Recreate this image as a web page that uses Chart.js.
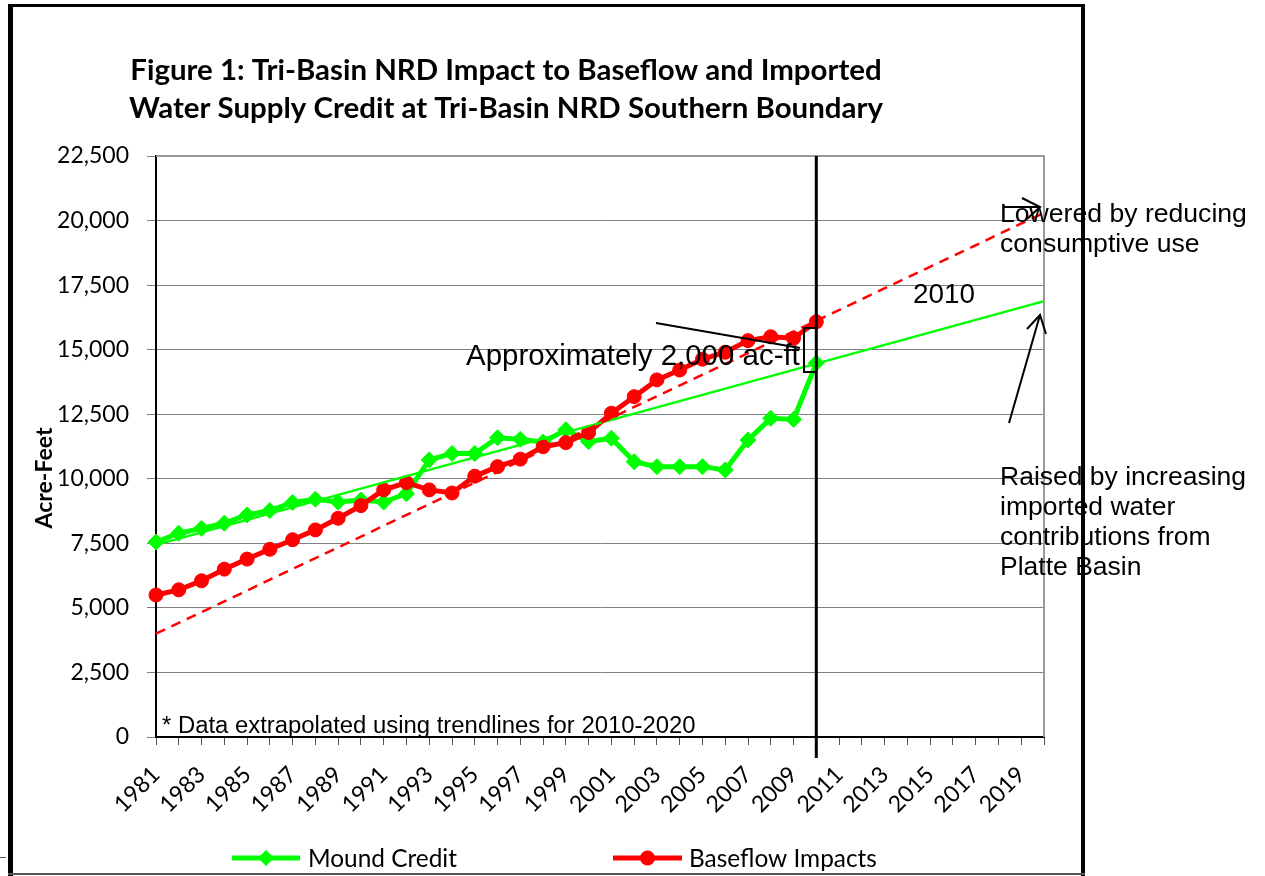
<!DOCTYPE html>
<html>
<head>
<meta charset="utf-8">
<script src="https://cdn.jsdelivr.net/npm/chart.js@4.4.1/dist/chart.umd.min.js"></script>
<style>
  html, body { margin: 0; padding: 0; background: #fff; }
  #wrap { width: 1265px; height: 876px; }
</style>
</head>
<body>
<div id="wrap"><canvas id="tribasinChart" width="1265" height="876"></canvas></div>
<script>
const years = [
  "1981", "1982", "1983", "1984", "1985", "1986", "1987", "1988", "1989", "1990",
  "1991", "1992", "1993", "1994", "1995", "1996", "1997", "1998", "1999", "2000",
  "2001", "2002", "2003", "2004", "2005", "2006", "2007", "2008", "2009", "2010",
  "2011", "2012", "2013", "2014", "2015", "2016", "2017", "2018", "2019", "2020",
]
const moundCredit = [
  7550, 7890, 8080, 8280, 8600, 8770, 9080, 9210, 9100, 9180,
  9100, 9420, 10730, 10980, 10980, 11590, 11530, 11420, 11900, 11440,
  11570, 10660, 10470, 10470, 10470, 10340, 11500, 12340, 12300, 14480,
]
const baseflowImpacts = [
  5500, 5700, 6050, 6500, 6890, 7270, 7640, 8020, 8470, 8960,
  9570, 9850, 9570, 9450, 10100, 10470, 10760, 11240, 11400, 11790,
  12540, 13180, 13830, 14210, 14630, 14900, 15350, 15500, 15440, 16080,
]
// trendline end points (1981 and 2020)
const trendYears = ["1981", "2020"]
const moundTrend = [7440, 16880]
const baseflowTrend = [4000, 20300]
const yTicks = [0, 2500, 5000, 7500, 10000, 12500, 15000, 17500, 20000, 22500]

const fitSize = (ctx, text, weight, family, width) => {
  ctx.font = `${weight} 100px "${family}"`
  return (100 * width) / ctx.measureText(text).width
}

const line = (ctx, pts, w) => {
  ctx.beginPath()
  ctx.lineWidth = w
  ctx.moveTo(pts[0][0], pts[0][1])
  for (let i = 1; i < pts.length; i++) ctx.lineTo(pts[i][0], pts[i][1])
  ctx.stroke()
}

const decorations = {
  id: "decorations",
  beforeDraw(chart) {
    const ctx = chart.ctx
    ctx.save()
    ctx.fillStyle = "#fff"
    ctx.fillRect(0, 0, chart.width, chart.height)
    ctx.restore()
  },
  afterDraw(chart) {
    const ctx = chart.ctx
    const area = chart.chartArea
    const x = chart.scales.x
    ctx.save()
    ctx.strokeStyle = "#000"
    ctx.fillStyle = "#000"

    // outer frame
    ctx.fillRect(8, 4, 5, 872)
    ctx.fillRect(8, 4, 1077, 3)
    ctx.fillRect(1081, 4, 4, 872)
    ctx.fillStyle = "#555"
    ctx.fillRect(8, 873, 1077, 2)
    ctx.fillRect(0, 857, 6, 1)

    // plot border top/right
    ctx.strokeStyle = "#999"
    line(ctx, [[area.left, area.top], [area.right, area.top], [area.right, area.bottom]], 2)

    // 2010 divider
    ctx.strokeStyle = "#000"
    const x2010 = x.getPixelForValue(years.indexOf("2010"))
    line(ctx, [[x2010, area.top], [x2010, 758]], 3)

    // title
    ctx.fillStyle = "#000"
    const t1 = "Figure 1: Tri-Basin NRD Impact to Baseflow and Imported"
    const t2 = "Water Supply Credit at Tri-Basin NRD Southern Boundary"
    const ts = fitSize(ctx, t1, "bold", "Lato", 752)
    ctx.font = `bold ${ts}px "Lato"`
    ctx.textAlign = "center"
    ctx.textBaseline = "alphabetic"
    ctx.fillText(t1, 506, 80)
    ctx.fillText(t2, 506, 118)

    // y axis title
    const ys = fitSize(ctx, "Acre-Feet", "bold", "Lato", 101)
    ctx.save()
    ctx.translate(52, 478)
    ctx.rotate(-Math.PI / 2)
    ctx.font = `bold ${ys}px "Lato"`
    ctx.textAlign = "center"
    ctx.fillText("Acre-Feet", 0, 0)
    ctx.restore()

    // annotations
    ctx.textAlign = "left"
    const note = "* Data extrapolated using trendlines for 2010-2020"
    ctx.font = `${fitSize(ctx, note, "normal", "Liberation Sans", 534)}px "Liberation Sans"`
    ctx.fillText(note, 162, 733)

    const approx = "Approximately 2,000 ac-ft"
    ctx.font = `${fitSize(ctx, approx, "normal", "Liberation Sans", 334)}px "Liberation Sans"`
    ctx.fillText(approx, 466, 365)

    ctx.font = `${fitSize(ctx, "2010", "normal", "Liberation Sans", 62)}px "Liberation Sans"`
    ctx.fillText("2010", 913, 303)

    const low = ["Lowered by reducing", "consumptive use"]
    ctx.font = `${fitSize(ctx, low[0], "normal", "Liberation Sans", 247)}px "Liberation Sans"`
    low.forEach((s, i) => ctx.fillText(s, 1000, 222 + i * 30))

    const raised = ["Raised by increasing", "imported water", "contributions from", "Platte Basin"]
    ctx.font = `${fitSize(ctx, raised[0], "normal", "Liberation Sans", 246)}px "Liberation Sans"`
    raised.forEach((s, i) => ctx.fillText(s, 1000, 485 + i * 30))

    // bracket + pointer
    ctx.strokeStyle = "#000"
    line(ctx, [[815, 328], [804, 328], [804, 372], [815, 372]], 2)
    line(ctx, [[656, 323], [800, 348]], 2)

    // arrows
    line(ctx, [[1003, 207], [1040, 207]], 2)
    line(ctx, [[1022, 198], [1040, 207], [1027, 219]], 2)
    line(ctx, [[1009, 423], [1040, 315]], 2)
    line(ctx, [[1027, 329], [1040, 315], [1046, 334]], 2)

    // legend
    const ls = fitSize(ctx, "Mound Credit", "normal", "Lato", 149)
    ctx.font = `${ls}px "Lato"`
    ctx.textBaseline = "middle"
    const legendItems = [
      { text: "Mound Credit", color: "#00ff00", x0: 232, x1: 300, tx: 308, shape: "diamond" },
      { text: "Baseflow Impacts", color: "#ff0000", x0: 613, x1: 682, tx: 689, shape: "circle" },
    ]
    legendItems.forEach((it) => {
      ctx.strokeStyle = it.color
      ctx.fillStyle = it.color
      line(ctx, [[it.x0, 858], [it.x1, 858]], 5)
      const cx = (it.x0 + it.x1) / 2
      ctx.beginPath()
      if (it.shape === "diamond") {
        ctx.moveTo(cx, 850); ctx.lineTo(cx + 8, 858); ctx.lineTo(cx, 866); ctx.lineTo(cx - 8, 858)
      } else {
        ctx.arc(cx, 858, 7.5, 0, Math.PI * 2)
      }
      ctx.closePath()
      ctx.fill()
      ctx.fillStyle = "#000"
      ctx.fillText(it.text, it.tx, 859)
    })
    ctx.restore()
  },
}

new Chart(document.getElementById("tribasinChart"), {
  type: "line",
  data: {
    labels: years,
    datasets: [
      {
        label: "Baseflow trend",
        data: trendYears.map((yr, i) => ({ x: yr, y: baseflowTrend[i] })),
        borderColor: "#ff0000",
        borderWidth: 2.5,
        borderDash: [10, 7],
        pointRadius: 0,
        order: 0,
      },
      {
        label: "Mound trend",
        data: trendYears.map((yr, i) => ({ x: yr, y: moundTrend[i] })),
        borderColor: "#00ff00",
        borderWidth: 2.5,
        pointRadius: 0,
        order: 1,
      },
      {
        label: "Baseflow Impacts",
        data: baseflowImpacts,
        borderColor: "#ff0000",
        backgroundColor: "#ff0000",
        borderWidth: 5,
        pointStyle: "circle",
        pointRadius: 7,
        pointBorderWidth: 1,
        order: 2,
      },
      {
        label: "Mound Credit",
        data: moundCredit,
        borderColor: "#00ff00",
        backgroundColor: "#00ff00",
        borderWidth: 5,
        pointStyle: "rectRot",
        pointRadius: 8,
        pointBorderWidth: 1,
        order: 3,
      },
    ],
  },
  options: {
    responsive: false,
    animation: false,
    layout: { padding: { top: 156, right: 221, left: 0, bottom: 0 } },
    plugins: {
      legend: { display: false },
      title: { display: false },
      tooltip: { enabled: false },
    },
    scales: {
      x: {
        offset: false,
        grid: { drawOnChartArea: false, tickLength: 8, color: "#555" },
        border: { color: "#000", width: 2 },
        ticks: {
          autoSkip: false,
          minRotation: 45,
          maxRotation: 45,
          color: "#000",
          padding: 16,
          font: { family: "Lato", size: 23 },
          callback: function (v, i) {
            return i % 2 === 0 ? this.getLabelForValue(v) : ""
          },
        },
        afterFit: (s) => { s.height = 139 },
      },
      y: {
        min: 0,
        max: 22500,
        afterBuildTicks: (s) => { s.ticks = yTicks.map((v) => ({ value: v })) },
        grid: { color: "#808080", tickLength: 9 },
        border: { color: "#000", width: 2 },
        ticks: {
          color: "#000",
          padding: 18,
          font: { family: "Lato", size: 23 },
          callback: (v) => v.toLocaleString("en-US"),
        },
        afterFit: (s) => { s.width = 156 },
      },
    },
  },
  plugins: [decorations],
})
</script>
</body>
</html>
